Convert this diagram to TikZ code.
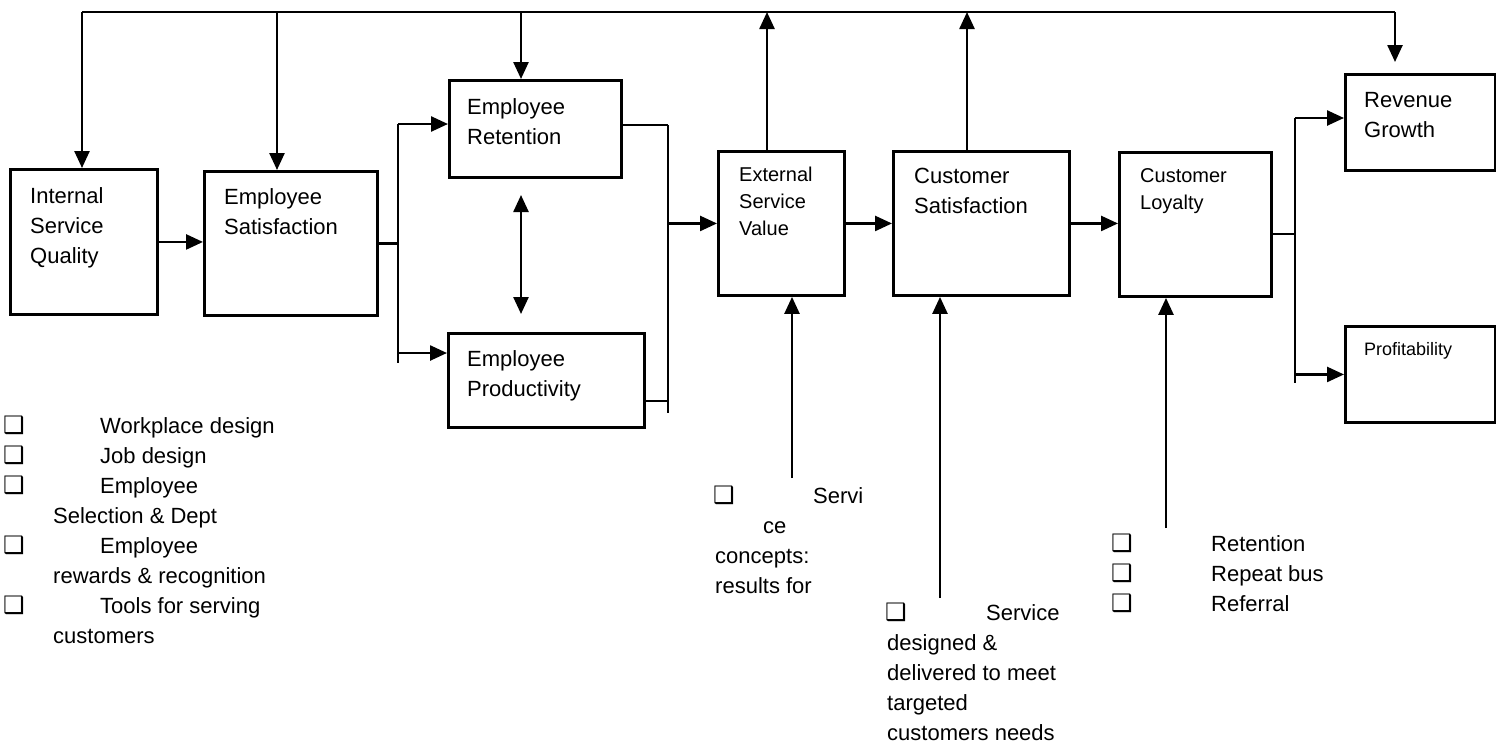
\documentclass[tikz,border=0pt]{standalone}
\usepackage{fontspec}
\setmainfont{Liberation Sans}
\newfontfamily\symfont{DejaVu Sans}
\usetikzlibrary{arrows.meta}
\newcommand{\blt}{{\symfont\fontsize{24}{24}\selectfont ❑}}
\begin{document}
\begin{tikzpicture}[x=1pt,y=-1pt,
  box/.style={draw, line width=2.9pt, inner sep=0pt, anchor=north west},
  boxtext/.style={anchor=north west, inner sep=0pt, align=left,
    font=\fontsize{22}{30}\selectfont},
  smalltext/.style={boxtext, font=\fontsize{20}{27}\selectfont},
  listtext/.style={anchor=north west, inner sep=0pt, align=left,
    font=\fontsize{22}{30}\selectfont},
  link/.style={line width=2.5pt},
  arr/.style={link, -{Triangle[length=17pt,width=15pt]}},
  dblarr/.style={link, {Triangle[length=17pt,width=15pt]}-{Triangle[length=17pt,width=15pt]}}]
\useasboundingbox (0,0) rectangle (1496,748);

% boxes
\node[box, minimum width=147pt, minimum height=145pt] (isq) at (9,168) {};
\node[box, minimum width=173pt, minimum height=144pt] (es)  at (203,170) {};
\node[box, minimum width=172pt, minimum height=97pt]  (er)  at (448,79) {};
\node[box, minimum width=196pt, minimum height=94pt]  (ep)  at (447,332) {};
\node[box, minimum width=126pt, minimum height=144pt] (esv) at (717,150) {};
\node[box, minimum width=176pt, minimum height=144pt] (cs)  at (892,150) {};
\node[box, minimum width=152pt, minimum height=144pt] (cl)  at (1118,151) {};
\node[box, minimum width=150pt, minimum height=96pt]  (rg)  at (1344,73) {};
\node[box, minimum width=150pt, minimum height=96pt]  (pr)  at (1344,325) {};

% box labels
\node[boxtext] (isqt) at (30,187) {Internal\\Service\\Quality};
\node[boxtext] (est)  at (224,188) {Employee\\Satisfaction};
\node[boxtext] (ert)  at (467,98) {Employee\\Retention};
\node[boxtext] (ept)  at (467,350) {Employee\\Productivity};
\node[smalltext] (esvt) at (739,167) {External\\Service\\Value};
\node[boxtext] (cst)  at (914,168) {Customer\\Satisfaction};
\node[smalltext] (clt) at (1140,168) {Customer\\Loyalty};
\node[boxtext] (rgt)  at (1364,92) {Revenue\\Growth};
\node[boxtext, font=\fontsize{18}{24}\selectfont] (prt) at (1364,342) {Profitability};

% feedback bus along the top
\coordinate (tl) at (82,12);
\coordinate (t2) at (277,12);
\coordinate (t3) at (521,12);
\coordinate (u1) at (767,12);
\coordinate (u2) at (967,12);
\coordinate (tr) at (1395,12);
\coordinate (rgtip) at (1395,62);
\draw[link] (tl) -- (tr);
\draw[arr] (tl) -- (tl |- isq.north);
\draw[arr] (t2) -- (t2 |- es.north);
\draw[arr] (t3) -- (t3 |- er.north);
\draw[arr] (tr) -- (rgtip);
\draw[arr] (u1 |- esv.north) -- (u1);
\draw[arr] (u2 |- cs.north) -- (u2);

% main chain
\draw[arr] (isq.east) -- (isq.east -| es.west);

\coordinate (sa) at (398,124);
\coordinate (sb) at (398,353);
\coordinate (se) at (398,363);
\draw[link] (es.east) -- (es.east -| sa);
\draw[link] (sa) -- (se);
\draw[arr] (sa) -- (sa -| er.west);
\draw[arr] (sb) -- (sb -| ep.west);

\coordinate (d1) at (521,195);
\coordinate (d2) at (521,314);
\draw[dblarr] (d1) -- (d2);

\coordinate (ja) at (668,125);
\coordinate (jb) at (668,401);
\coordinate (je) at (668,413);
\draw[link] (ja -| er.east) -- (ja);
\draw[link] (jb -| ep.east) -- (jb);
\draw[link] (ja) -- (je);
\draw[arr] (esv.west -| ja) -- (esv.west);

\draw[arr] (esv.east) -- (esv.east -| cs.west);
\draw[arr] (cs.east) -- (cs.east -| cl.west);

\coordinate (k) at (1295,234);
\coordinate (ka) at (1295,118);
\coordinate (ke) at (1295,383);
\draw[link] (k -| cl.east) -- (k);
\draw[link] (ka) -- (ke);
\draw[arr] (ka) -- (ka -| rg.west);
\draw[arr] (pr.west -| ka) -- (pr.west);

% drivers from below
\coordinate (b1) at (792,478);
\coordinate (b2) at (940,598);
\coordinate (b3) at (1166,528);
\draw[arr] (b1) -- (b1 |- esv.south);
\draw[arr] (b2) -- (b2 |- cs.south);
\draw[arr] (b3) -- (b3 |- cl.south);

% bullet lists
\node[listtext] (l1) at (3,417) {%
  \makebox[97pt][l]{\smash{\blt}}Workplace design\\
  \makebox[97pt][l]{\blt}Job design\\
  \makebox[97pt][l]{\blt}Employee\\
  \hspace*{50pt}Selection \& Dept\\
  \makebox[97pt][l]{\blt}Employee\\
  \hspace*{50pt}rewards \& recognition\\
  \makebox[97pt][l]{\blt}Tools for serving\\
  \hspace*{50pt}customers};
\node[listtext] (l2) at (713,487) {%
  \makebox[100pt][l]{\smash{\blt}}Servi\\
  \hspace*{50pt}ce\\
  \hspace*{2pt}concepts:\\
  \hspace*{2pt}results for};
\node[listtext] (l3) at (885,604) {%
  \makebox[101pt][l]{\smash{\blt}}Service\\
  \hspace*{2pt}designed \&\\
  \hspace*{2pt}delivered to meet\\
  \hspace*{2pt}targeted\\
  \hspace*{2pt}customers needs};
\node[listtext] (l4) at (1111,535) {%
  \makebox[100pt][l]{\smash{\blt}}Retention\\
  \makebox[100pt][l]{\blt}Repeat bus\\
  \makebox[100pt][l]{\blt}Referral};
\end{tikzpicture}
\end{document}
